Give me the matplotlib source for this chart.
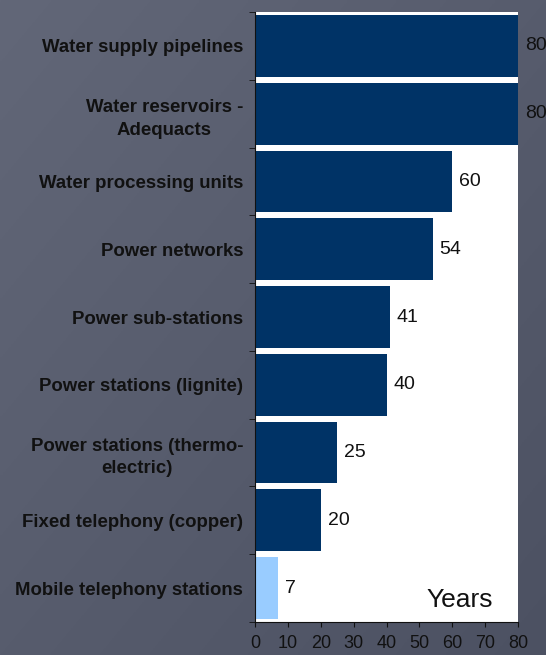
import numpy as np
import matplotlib.pyplot as plt

categories = ["Water supply pipelines", "Water reservoirs -\nAdequacts",
              "Water processing units", "Power networks", "Power sub-stations",
              "Power stations (lignite)", "Power stations (thermo-\nelectric)",
              "Fixed telephony (copper)", "Mobile telephony stations"]
years = [80, 80, 60, 54, 41, 40, 25, 20, 7]
colors = ["#003366"] * 8 + ["#99ccff"]
xticks = [0, 10, 20, 30, 40, 50, 60, 70, 80]

plt.rcParams['font.family'] = ['Liberation Sans', 'DejaVu Sans']

fig = plt.figure(figsize=(5.46, 6.55), dpi=100)

# dark gradient background
bg = fig.add_axes([0, 0, 1, 1], zorder=-10)
yy, xx = np.mgrid[0:1:200j, 0:1:200j]
g = 0.5 * yy + 0.5 * xx
grad = np.zeros((200, 200, 3))
top = np.array([98, 103, 120]) / 255
bot = np.array([76, 81, 98]) / 255
for c in range(3):
    grad[:, :, c] = top[c] + (bot[c] - top[c]) * g
bg.imshow(grad, aspect="auto", extent=[0, 1, 0, 1])
bg.axis("off")

ax = fig.add_axes([255 / 546, (655 - 622) / 655, (518 - 255) / 546, (622 - 12) / 655])
ax.set_facecolor("white")
pos = np.arange(len(categories))
ax.barh(pos, years, height=0.91, color=colors)
ax.set_ylim(len(categories) - 0.5, -0.5)
ax.set_xlim(0, 80)

for p, v in zip(pos, years):
    ax.text(v + 2.1, p, str(v), va="center", ha="left", fontsize=14, color="#111111", clip_on=False)

ax.set_yticks(pos)
ax.set_yticklabels(categories, fontsize=13.4, fontweight="bold", color="#111111")
for lbl in ax.get_yticklabels():
    lbl.set_multialignment("center")
    lbl.set_linespacing(1.45)
ax.set_yticks(np.arange(-0.5, len(categories)), minor=True)
ax.tick_params(axis="y", which="major", length=0, pad=8.5)
ax.tick_params(axis="y", which="minor", length=4, direction="out", color="#111111")

ax.set_xticks(xticks)
ax.set_xticklabels([str(t) for t in xticks], fontsize=13, color="#111111")
ax.tick_params(axis="x", length=3.6, direction="out", color="#111111", pad=5.5)

for s in ["top", "right"]:
    ax.spines[s].set_visible(False)
ax.spines["left"].set_color("#111111")
ax.spines["bottom"].set_color("#111111")

ax.text(0.905, 0.025, "Years", transform=ax.transAxes, fontsize=19, ha="right", va="baseline", color="#111111")

fig.savefig("out.png", dpi=100)
